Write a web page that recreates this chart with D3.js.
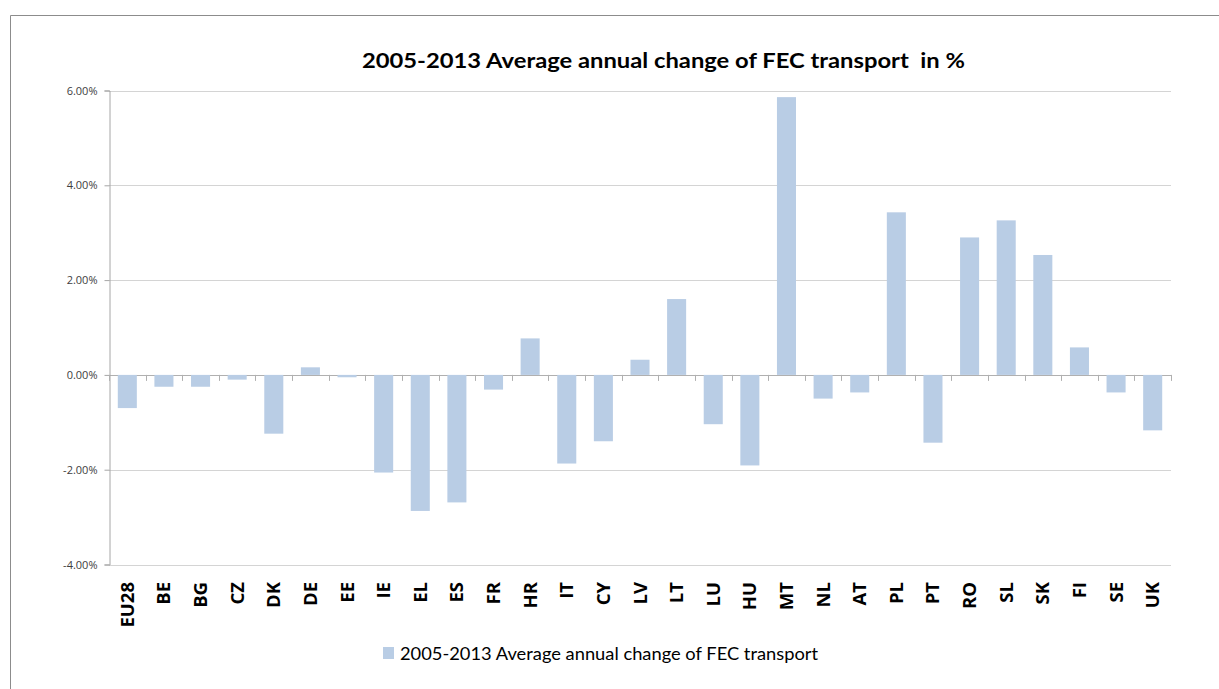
<!DOCTYPE html>
<html>
<head>
<meta charset="utf-8">
<script src="https://cdn.jsdelivr.net/npm/d3@7"></script>
<style>
  body { margin: 0; background: #fff; }
  svg { display: block; font-family: Lato, "Open Sans", sans-serif; }
</style>
</head>
<body>
<svg width="1219" height="689"></svg>
<script>
// countries and 2005-2013 average annual change (in %)
var countries = ["EU28","BE","BG","CZ","DK","DE","EE","IE","EL","ES","FR","HR","IT","CY","LV","LT","LU","HU","MT","NL","AT","PL","PT","RO","SL","SK","FI","SE","UK"];
var changes = [-0.70,-0.25,-0.25,-0.10,-1.24,0.16,-0.05,-2.06,-2.87,-2.69,-0.31,0.77,-1.87,-1.40,0.32,1.60,-1.04,-1.91,5.86,-0.50,-0.37,3.43,-1.43,2.90,3.26,2.53,0.58,-0.37,-1.17];
var yTicks = [-4, -2, 0, 2, 4, 6];

var titleText = "2005-2013 Average annual change of FEC transport  in %";
var seriesName = "2005-2013 Average annual change of FEC transport";

var svg = d3.select("svg");
var barColor = "#b9cde5";

// outer frame (top and left edges only visible)
svg.append("path")
    .attr("d", "M10.5,689 V15.5 H1219")
    .attr("fill", "none")
    .attr("stroke", "#8c8c8c")
    .attr("stroke-width", 1);

var left = 109, right = 1171;
var x = d3.scaleBand().domain(countries).range([left, right]).paddingInner(0.48).paddingOuter(0.24);
var y = d3.scaleLinear().domain([-4, 6]).range([564.5, 90.5]);

// gridlines
svg.append("g")
    .selectAll("line")
    .data(yTicks)
    .enter().append("line")
    .attr("x1", left).attr("x2", right)
    .attr("y1", d => Math.round(y(d)) + 0.5)
    .attr("y2", d => Math.round(y(d)) + 0.5)
    .attr("stroke", d => d === 0 ? "#b0b0b0" : "#d4d4d4")
    .attr("stroke-width", 1.2);

// y axis
var yAxis = svg.append("g")
    .attr("transform", "translate(" + (left + 0.5) + ",0)")
    .call(d3.axisLeft(y).tickValues(yTicks).tickSize(5).tickPadding(7)
        .tickFormat(d => d.toFixed(2) + "%"));
yAxis.select(".domain").attr("stroke", "#a6a6a6");
yAxis.selectAll(".tick line").attr("stroke", "#a6a6a6");
yAxis.selectAll("text").attr("font-size", 11).attr("fill", "#404040")
    .attr("font-family", "'Open Sans', sans-serif");

// bars
svg.append("g")
    .selectAll("rect")
    .data(countries)
    .enter().append("rect")
    .attr("x", d => x(d))
    .attr("width", x.bandwidth())
    .attr("y", (d, i) => y(Math.max(0, changes[i])))
    .attr("height", (d, i) => Math.abs(y(changes[i]) - y(0)))
    .attr("fill", barColor);

// category tick marks on the zero line (between categories)
var sepData = d3.range(countries.length + 1);
svg.append("g")
    .selectAll("line")
    .data(sepData)
    .enter().append("line")
    .attr("x1", d => Math.round(left + d * (right - left) / countries.length) + 0.5)
    .attr("x2", d => Math.round(left + d * (right - left) / countries.length) + 0.5)
    .attr("y1", y(0))
    .attr("y2", y(0) + 6)
    .attr("stroke", "#b0b0b0");

// x labels (rotated)
svg.append("g")
    .selectAll("text")
    .data(countries)
    .enter().append("text")
    .attr("transform", d => "translate(" + (x(d) + x.bandwidth() / 2 + 6.5) + ",582) rotate(-90)")
    .attr("text-anchor", "end")
    .attr("font-family", "'Open Sans', sans-serif")
    .attr("font-size", 18.5)
    .attr("font-weight", "bold")
    .attr("fill", "#000")
    .text(d => d);

// title
svg.append("text")
    .attr("x", 362)
    .attr("y", 68)
    .attr("font-size", 21)
    .attr("font-weight", "bold")
    .attr("fill", "#000")
    .attr("textLength", 603)
    .attr("lengthAdjust", "spacingAndGlyphs")
    .style("white-space", "pre")
    .text(titleText);

// legend
var legend = svg.append("g").attr("transform", "translate(383,647)");
legend.append("rect").attr("width", 11).attr("height", 12).attr("fill", barColor);
legend.append("text")
    .attr("x", 17).attr("y", 13)
    .attr("font-size", 18)
    .attr("fill", "#000")
    .attr("textLength", 418)
    .attr("lengthAdjust", "spacingAndGlyphs")
    .text(seriesName);
</script>
</body>
</html>
